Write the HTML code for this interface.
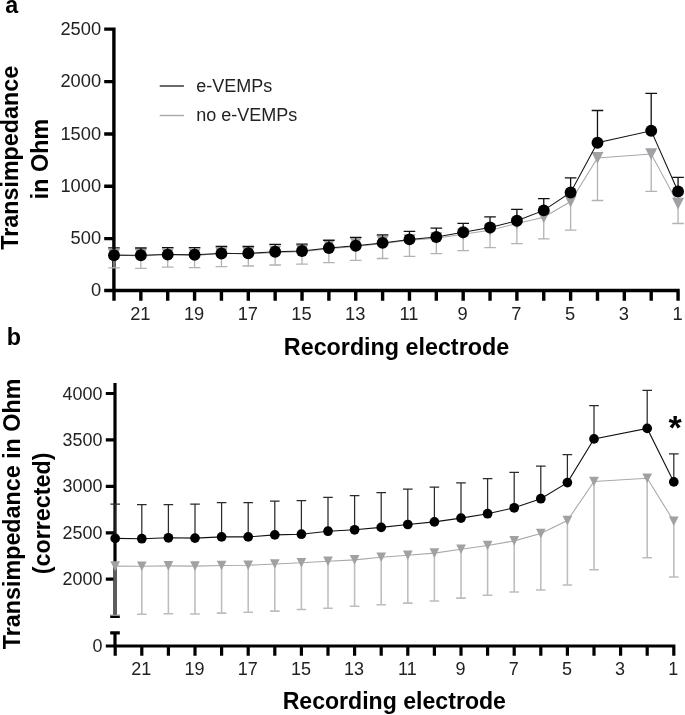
<!DOCTYPE html>
<html lang="en"><head><meta charset="utf-8"><title>Transimpedance</title>
<style>
html,body{margin:0;padding:0;background:#fff;}
svg{display:block;font-family:"Liberation Sans", Arial, sans-serif;will-change:transform;}
</style></head>
<body>
<svg width="685" height="715" viewBox="0 0 685 715">
<rect width="685" height="715" fill="#fff"/>
<g id="top">
<path d="M113.9 27.4V292.2M112.2 290.5H679.7M104.2 290.5H113.9M104.2 238.6H113.9M104.2 186.2H113.9M104.2 134H113.9M104.2 81.6H113.9M104.2 29.1H113.9M114 290.5V300.7M140.86 290.5V300.7M167.72 290.5V300.7M194.58 290.5V300.7M221.44 290.5V300.7M248.3 290.5V300.7M275.16 290.5V300.7M302.02 290.5V300.7M328.88 290.5V300.7M355.74 290.5V300.7M382.6 290.5V300.7M409.46 290.5V300.7M436.32 290.5V300.7M463.18 290.5V300.7M490.04 290.5V300.7M516.9 290.5V300.7M543.76 290.5V300.7M570.62 290.5V300.7M597.48 290.5V300.7M624.34 290.5V300.7M651.2 290.5V300.7M678.06 290.5V300.7" stroke="#000" stroke-width="3.4" fill="none"/>
<path d="M114 254.8V267.8M108.2 267.8H119.8M140.86 254.9V268.3M135.06 268.3H146.66M167.72 254.3V267.2M161.92 267.2H173.52M194.58 254.5V267.7M188.78 267.7H200.38M221.44 253.3V266.6M215.64 266.6H227.24M248.3 253.2V266M242.5 266H254.1M275.16 251.3V265M269.36 265H280.96M302.02 251V264.2M296.22 264.2H307.82M328.88 245.1V262.6M323.08 262.6H334.68M355.74 243.4V260.4M349.94 260.4H361.54M382.6 241.4V258.5M376.8 258.5H388.4M409.46 240.2V256.3M403.66 256.3H415.26M436.32 238.2V253.7M430.52 253.7H442.12M463.18 234.3V250.7M457.38 250.7H468.98M490.04 230.2V247.6M484.24 247.6H495.84M516.9 223.6V243.6M511.1 243.6H522.7M543.76 217.3V238.9M537.96 238.9H549.56M570.62 201.5V230.1M564.82 230.1H576.42M597.48 157.9V200.5M591.68 200.5H603.28M651.2 154.1V191.4M645.4 191.4H657M678.06 203.7V223.5M672.26 223.5H683.86" stroke="#b2b2b6" stroke-width="1.3" fill="none"/>
<polyline points="114,254.6 140.86,256.2 167.72,254 194.58,255.7 221.44,253.1 248.3,254.1 275.16,252.5 302.02,251.8 328.88,248.7 355.74,246.4 382.6,243.6 409.46,240.2 436.32,238.2 463.18,234.3 490.04,230.2 516.9,223.6 543.76,217.3 570.62,201.5 597.48,157.9 651.2,154.1 678.06,203.7" stroke="#a8a8ac" stroke-width="1.05" fill="none"/>
<path d="M108 248.9H120L114 260.7ZM134.86 249H146.86L140.86 260.8ZM161.72 248.4H173.72L167.72 260.2ZM188.58 248.6H200.58L194.58 260.4ZM215.44 247.4H227.44L221.44 259.2ZM242.3 247.3H254.3L248.3 259.1ZM269.16 245.4H281.16L275.16 257.2ZM296.02 245.1H308.02L302.02 256.9ZM322.88 239.2H334.88L328.88 251ZM349.74 237.5H361.74L355.74 249.3ZM376.6 235.5H388.6L382.6 247.3ZM403.46 234.3H415.46L409.46 246.1ZM430.32 232.3H442.32L436.32 244.1ZM457.18 228.4H469.18L463.18 240.2ZM484.04 224.3H496.04L490.04 236.1ZM510.9 217.7H522.9L516.9 229.5ZM537.76 211.4H549.76L543.76 223.2ZM564.62 195.6H576.62L570.62 207.4ZM591.48 152H603.48L597.48 163.8ZM645.2 148.2H657.2L651.2 160ZM672.06 197.8H684.06L678.06 209.6Z" fill="#a0a0a5"/>
<path d="M114 255.3V247.9M108.2 247.9H119.8M140.86 255.3V248M135.06 248H146.66M167.72 254.6V247.6M161.92 247.6H173.52M194.58 254.8V247.6M188.78 247.6H200.38M221.44 253.5V246.5M215.64 246.5H227.24M248.3 253.3V246.5M242.5 246.5H254.1M275.16 251.7V244.4M269.36 244.4H280.96M302.02 251V244.2M296.22 244.2H307.82M328.88 248V240.3M323.08 240.3H334.68M355.74 245.7V237.3M349.94 237.3H361.54M382.6 242.9V234.8M376.8 234.8H388.4M409.46 239.4V231.3M403.66 231.3H415.26M436.32 237V228.2M430.52 228.2H442.12M463.18 232.3V223.3M457.38 223.3H468.98M490.04 227.5V216.8M484.24 216.8H495.84M516.9 220.8V209.4M511.1 209.4H522.7M543.76 210.4V198.6M537.96 198.6H549.56M570.62 192.5V177.8M564.82 177.8H576.42M597.48 142.7V110.5M591.68 110.5H603.28M651.2 130.8V93.3M645.4 93.3H657M678.06 191.5V177.3M672.26 177.3H683.86" stroke="#111" stroke-width="1.3" fill="none"/>
<polyline points="114,255.3 140.86,255.3 167.72,254.6 194.58,254.8 221.44,253.5 248.3,253.3 275.16,251.7 302.02,251 328.88,248 355.74,245.7 382.6,242.9 409.46,239.4 436.32,237 463.18,232.3 490.04,227.5 516.9,220.8 543.76,210.4 570.62,192.5 597.48,142.7 651.2,130.8 678.06,191.5" stroke="#111" stroke-width="1.05" fill="none"/>
<circle cx="114" cy="255.3" r="5.95" fill="#000"/>
<circle cx="140.86" cy="255.3" r="5.95" fill="#000"/>
<circle cx="167.72" cy="254.6" r="5.95" fill="#000"/>
<circle cx="194.58" cy="254.8" r="5.95" fill="#000"/>
<circle cx="221.44" cy="253.5" r="5.95" fill="#000"/>
<circle cx="248.3" cy="253.3" r="5.95" fill="#000"/>
<circle cx="275.16" cy="251.7" r="5.95" fill="#000"/>
<circle cx="302.02" cy="251" r="5.95" fill="#000"/>
<circle cx="328.88" cy="248" r="5.95" fill="#000"/>
<circle cx="355.74" cy="245.7" r="5.95" fill="#000"/>
<circle cx="382.6" cy="242.9" r="5.95" fill="#000"/>
<circle cx="409.46" cy="239.4" r="5.95" fill="#000"/>
<circle cx="436.32" cy="237" r="5.95" fill="#000"/>
<circle cx="463.18" cy="232.3" r="5.95" fill="#000"/>
<circle cx="490.04" cy="227.5" r="5.95" fill="#000"/>
<circle cx="516.9" cy="220.8" r="5.95" fill="#000"/>
<circle cx="543.76" cy="210.4" r="5.95" fill="#000"/>
<circle cx="570.62" cy="192.5" r="5.95" fill="#000"/>
<circle cx="597.48" cy="142.7" r="5.95" fill="#000"/>
<circle cx="651.2" cy="130.8" r="5.95" fill="#000"/>
<circle cx="678.06" cy="191.5" r="5.95" fill="#000"/>
<text x="101.1" y="296.1" text-anchor="end" font-size="18.3" fill="#222">0</text>
<text x="101.1" y="244.2" text-anchor="end" font-size="18.3" fill="#222">500</text>
<text x="101.1" y="191.8" text-anchor="end" font-size="18.3" fill="#222">1000</text>
<text x="101.1" y="139.6" text-anchor="end" font-size="18.3" fill="#222">1500</text>
<text x="101.1" y="87.2" text-anchor="end" font-size="18.3" fill="#222">2000</text>
<text x="101.1" y="34.7" text-anchor="end" font-size="18.3" fill="#222">2500</text>
<text x="140.36" y="319.7" text-anchor="middle" font-size="18.3" fill="#222">21</text>
<text x="194.08" y="319.7" text-anchor="middle" font-size="18.3" fill="#222">19</text>
<text x="247.8" y="319.7" text-anchor="middle" font-size="18.3" fill="#222">17</text>
<text x="301.52" y="319.7" text-anchor="middle" font-size="18.3" fill="#222">15</text>
<text x="355.24" y="319.7" text-anchor="middle" font-size="18.3" fill="#222">13</text>
<text x="408.96" y="319.7" text-anchor="middle" font-size="18.3" fill="#222">11</text>
<text x="462.68" y="319.7" text-anchor="middle" font-size="18.3" fill="#222">9</text>
<text x="516.4" y="319.7" text-anchor="middle" font-size="18.3" fill="#222">7</text>
<text x="570.12" y="319.7" text-anchor="middle" font-size="18.3" fill="#222">5</text>
<text x="623.84" y="319.7" text-anchor="middle" font-size="18.3" fill="#222">3</text>
<text x="677.56" y="319.7" text-anchor="middle" font-size="18.3" fill="#222">1</text>
<text x="396.5" y="354.9" text-anchor="middle" font-size="23.3" font-weight="bold">Recording electrode</text>
<text transform="translate(17.5 157.8) rotate(-90)" text-anchor="middle" font-size="23.3" font-weight="bold">Transimpedance</text>
<text transform="translate(47.7 159) rotate(-90)" text-anchor="middle" font-size="23.3" font-weight="bold">in Ohm</text>
<path d="M159.7 86H183.9" stroke="#2a2a2a" stroke-width="1.4"/>
<path d="M159.7 115.5H183.9" stroke="#a6a6aa" stroke-width="1.4"/>
<text x="196.3" y="91.6" font-size="18" fill="#222">e-VEMPs</text>
<text x="196.3" y="121.2" font-size="18" fill="#222">no e-VEMPs</text>
<text x="5.2" y="13.1" font-size="23.3" font-weight="bold">a</text>
</g>
<g id="bot">
<path d="M115 383V616.5M110.2 616.5H119.8M110.2 632.9H119.8M115 632.9V647.6M113.4 646H675.4M105.8 393.5H115M105.8 439.9H115M105.8 486.3H115M105.8 532.8H115M105.8 579.2H115M105.8 646H115M115.2 646V655.7M141.8 646V655.7M168.4 646V655.7M195 646V655.7M221.6 646V655.7M248.2 646V655.7M274.8 646V655.7M301.4 646V655.7M328 646V655.7M354.6 646V655.7M381.2 646V655.7M407.8 646V655.7M434.4 646V655.7M461 646V655.7M487.6 646V655.7M514.2 646V655.7M540.8 646V655.7M567.4 646V655.7M594 646V655.7M620.6 646V655.7M647.2 646V655.7M673.8 646V655.7" stroke="#000" stroke-width="3.2" fill="none"/>
<path d="M115.2 566.1V614.9M110.4 614.9H120M141.8 566.2V614.3M137 614.3H146.6M168.4 565.9V613.7M163.6 613.7H173.2M195 566.1V614M190.2 614H199.8M221.6 565.5V613.1M216.8 613.1H226.4M248.2 565.2V612.3M243.4 612.3H253M274.8 564V611.1M270 611.1H279.6M301.4 562.8V609.5M296.6 609.5H306.2M328 561.3V608.3M323.2 608.3H332.8M354.6 559.9V606.3M349.8 606.3H359.4M381.2 557.2V604.8M376.4 604.8H386M407.8 555.2V603.1M403 603.1H412.6M434.4 553.1V601M429.6 601H439.2M461 549.3V598.1M456.2 598.1H465.8M487.6 545.5V595.2M482.8 595.2H492.4M514.2 540.9V592M509.4 592H519M540.8 533.6V589.9M536 589.9H545.6M567.4 520.6V585M562.6 585H572.2M594 481.5V569.7M589.2 569.7H598.8M647.2 478.3V557.8M642.4 557.8H652M673.8 521.3V577M669 577H678.6" stroke="#bdbdc1" stroke-width="1.55" fill="none"/>
<polyline points="115.2,566.1 141.8,566.2 168.4,565.9 195,566.1 221.6,565.5 248.2,565.2 274.8,564 301.4,562.8 328,561.3 354.6,559.9 381.2,557.2 407.8,555.2 434.4,553.1 461,549.3 487.6,545.5 514.2,540.9 540.8,533.6 567.4,520.6 594,481.5 647.2,478.3 673.8,521.3" stroke="#a9a9ad" stroke-width="1.1" fill="none"/>
<path d="M110.35 561.3H120.05L115.2 570.9ZM136.95 561.4H146.65L141.8 571ZM163.55 561.1H173.25L168.4 570.7ZM190.15 561.3H199.85L195 570.9ZM216.75 560.7H226.45L221.6 570.3ZM243.35 560.4H253.05L248.2 570ZM269.95 559.2H279.65L274.8 568.8ZM296.55 558H306.25L301.4 567.6ZM323.15 556.5H332.85L328 566.1ZM349.75 555.1H359.45L354.6 564.7ZM376.35 552.4H386.05L381.2 562ZM402.95 550.4H412.65L407.8 560ZM429.55 548.3H439.25L434.4 557.9ZM456.15 544.5H465.85L461 554.1ZM482.75 540.7H492.45L487.6 550.3ZM509.35 536.1H519.05L514.2 545.7ZM535.95 528.8H545.65L540.8 538.4ZM562.55 515.8H572.25L567.4 525.4ZM589.15 476.7H598.85L594 486.3ZM642.35 473.5H652.05L647.2 483.1ZM668.95 516.5H678.65L673.8 526.1Z" fill="#a0a0a5"/>
<path d="M115.2 538.4V504.2M110.4 504.2H120M141.8 538.7V504.5M137 504.5H146.6M168.4 537.8V504.5M163.6 504.5H173.2M195 538.1V504.2M190.2 504.2H199.8M221.6 536.9V502.5M216.8 502.5H226.4M248.2 536.9V502.5M243.4 502.5H253M274.8 534.9V501M270 501H279.6M301.4 534.2V500.5M296.6 500.5H306.2M328 531.2V497.4M323.2 497.4H332.8M354.6 529.8V495.6M349.8 495.6H359.4M381.2 527.4V492.7M376.4 492.7H386M407.8 524.5V489.2M403 489.2H412.6M434.4 521.9V487.2M429.6 487.2H439.2M461 518.1V482.8M456.2 482.8H465.8M487.6 513.7V478.7M482.8 478.7H492.4M514.2 507.8V472.4M509.4 472.4H519M540.8 498.7V466.2M536 466.2H545.6M567.4 482.6V454.6M562.6 454.6H572.2M594 438.9V405.7M589.2 405.7H598.8M647.2 428.4V390.3M642.4 390.3H652M673.8 481.9V453.9M669 453.9H678.6" stroke="#2b2b2b" stroke-width="1.25" fill="none"/>
<polyline points="115.2,538.4 141.8,538.7 168.4,537.8 195,538.1 221.6,536.9 248.2,536.9 274.8,534.9 301.4,534.2 328,531.2 354.6,529.8 381.2,527.4 407.8,524.5 434.4,521.9 461,518.1 487.6,513.7 514.2,507.8 540.8,498.7 567.4,482.6 594,438.9 647.2,428.4 673.8,481.9" stroke="#111" stroke-width="1.1" fill="none"/>
<circle cx="115.2" cy="538.4" r="4.85" fill="#000"/>
<circle cx="141.8" cy="538.7" r="4.85" fill="#000"/>
<circle cx="168.4" cy="537.8" r="4.85" fill="#000"/>
<circle cx="195" cy="538.1" r="4.85" fill="#000"/>
<circle cx="221.6" cy="536.9" r="4.85" fill="#000"/>
<circle cx="248.2" cy="536.9" r="4.85" fill="#000"/>
<circle cx="274.8" cy="534.9" r="4.85" fill="#000"/>
<circle cx="301.4" cy="534.2" r="4.85" fill="#000"/>
<circle cx="328" cy="531.2" r="4.85" fill="#000"/>
<circle cx="354.6" cy="529.8" r="4.85" fill="#000"/>
<circle cx="381.2" cy="527.4" r="4.85" fill="#000"/>
<circle cx="407.8" cy="524.5" r="4.85" fill="#000"/>
<circle cx="434.4" cy="521.9" r="4.85" fill="#000"/>
<circle cx="461" cy="518.1" r="4.85" fill="#000"/>
<circle cx="487.6" cy="513.7" r="4.85" fill="#000"/>
<circle cx="514.2" cy="507.8" r="4.85" fill="#000"/>
<circle cx="540.8" cy="498.7" r="4.85" fill="#000"/>
<circle cx="567.4" cy="482.6" r="4.85" fill="#000"/>
<circle cx="594" cy="438.9" r="4.85" fill="#000"/>
<circle cx="647.2" cy="428.4" r="4.85" fill="#000"/>
<circle cx="673.8" cy="481.9" r="4.85" fill="#000"/>
<path d="M115 570.5V614.9" stroke="#5c5c5e" stroke-width="3.2" fill="none"/>
<text x="102.4" y="399.6" text-anchor="end" font-size="17.9" fill="#222">4000</text>
<text x="102.4" y="446" text-anchor="end" font-size="17.9" fill="#222">3500</text>
<text x="102.4" y="492.4" text-anchor="end" font-size="17.9" fill="#222">3000</text>
<text x="102.4" y="538.9" text-anchor="end" font-size="17.9" fill="#222">2500</text>
<text x="102.4" y="585.3" text-anchor="end" font-size="17.9" fill="#222">2000</text>
<text x="102.4" y="652.1" text-anchor="end" font-size="17.9" fill="#222">0</text>
<text x="141.3" y="674.7" text-anchor="middle" font-size="18" fill="#222">21</text>
<text x="194.5" y="674.7" text-anchor="middle" font-size="18" fill="#222">19</text>
<text x="247.7" y="674.7" text-anchor="middle" font-size="18" fill="#222">17</text>
<text x="300.9" y="674.7" text-anchor="middle" font-size="18" fill="#222">15</text>
<text x="354.1" y="674.7" text-anchor="middle" font-size="18" fill="#222">13</text>
<text x="407.3" y="674.7" text-anchor="middle" font-size="18" fill="#222">11</text>
<text x="460.5" y="674.7" text-anchor="middle" font-size="18" fill="#222">9</text>
<text x="513.7" y="674.7" text-anchor="middle" font-size="18" fill="#222">7</text>
<text x="566.9" y="674.7" text-anchor="middle" font-size="18" fill="#222">5</text>
<text x="620.1" y="674.7" text-anchor="middle" font-size="18" fill="#222">3</text>
<text x="673.3" y="674.7" text-anchor="middle" font-size="18" fill="#222">1</text>
<text x="394.3" y="709.3" text-anchor="middle" font-size="23.1" font-weight="bold">Recording electrode</text>
<text transform="translate(20.3 513.9) rotate(-90)" text-anchor="middle" font-size="23.3" font-weight="bold">Transimpedance in Ohm</text>
<text transform="translate(49.6 513.4) rotate(-90)" text-anchor="middle" font-size="23.3" font-weight="bold">(corrected)</text>
<text x="675" y="439.2" text-anchor="middle" font-size="34" font-weight="bold">*</text>
<text x="6.7" y="345.2" font-size="23.3" font-weight="bold">b</text>
</g>
</svg>
</body></html>
